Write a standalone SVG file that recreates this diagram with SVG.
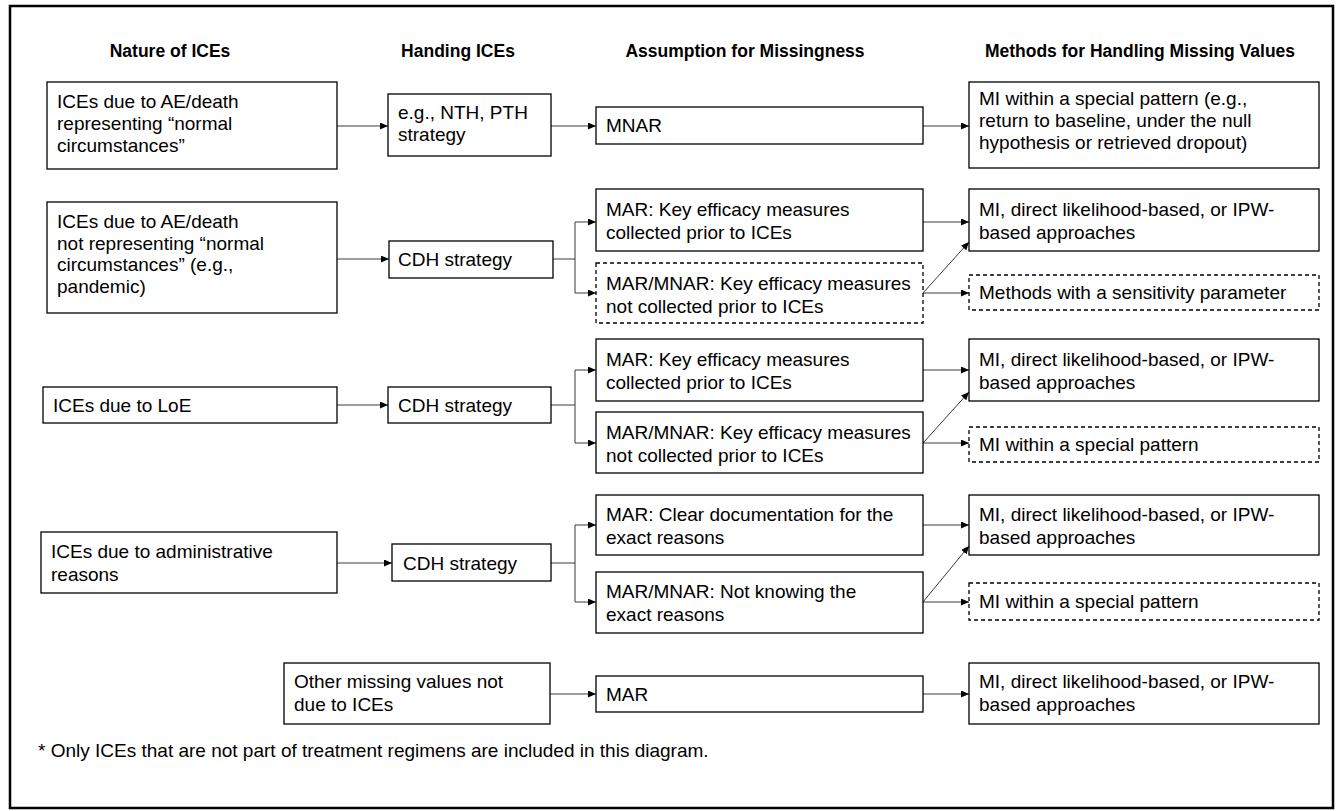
<svg xmlns="http://www.w3.org/2000/svg" width="1336" height="811" viewBox="0 0 1336 811">
<defs>
<style>
.box{fill:#fff;stroke:#000;stroke-width:1.3}
.dash{stroke-dasharray:4 3}
.t{font-family:"Liberation Sans",Arial,sans-serif;font-size:19px;fill:#000}
.h{font-family:"Liberation Sans",Arial,sans-serif;font-size:17.5px;font-weight:bold;fill:#000;text-anchor:middle}
.c{fill:none;stroke:#3a3a3a;stroke-width:1}
</style>
<marker id="ah" markerUnits="userSpaceOnUse" markerWidth="8" markerHeight="7" refX="8" refY="3.5" orient="auto">
<path d="M0,0 L8,3.5 L0,7 z" fill="#000"/>
</marker>
</defs>
<rect x="0" y="0" width="1336" height="811" fill="#fff"/>
<rect id="frame" x="10" y="6" width="1323" height="802" fill="#fff" stroke="#000" stroke-width="2.5"/>

<g id="headers">
<text class="h" x="170" y="57">Nature of ICEs</text>
<text class="h" x="458" y="57">Handing ICEs</text>
<text class="h" x="745" y="57">Assumption for Missingness</text>
<text class="h" x="1140" y="57">Methods for Handling Missing Values</text>
</g>

<g id="connectors" marker-end="url(#ah)">
<path class="c" d="M337,126 H388"/>
<path class="c" d="M551,126 H596"/>
<path class="c" d="M923,126 H969"/>
<path class="c" d="M337,259 H389"/>
<path class="c" d="M553,259 H575 V222 H596"/>
<path class="c" d="M575,259 V293 H596"/>
<path class="c" d="M923,222 H969"/>
<path class="c" d="M923,293 L969,242"/>
<path class="c" d="M923,293 H969"/>
<path class="c" d="M337,405 H388"/>
<path class="c" d="M551,405 H575 V370 H596"/>
<path class="c" d="M575,405 V443 H596"/>
<path class="c" d="M923,370 H969"/>
<path class="c" d="M923,443 L969,392"/>
<path class="c" d="M923,443 H969"/>
<path class="c" d="M337,563 H392"/>
<path class="c" d="M551,563 H575 V525 H596"/>
<path class="c" d="M575,563 V602 H596"/>
<path class="c" d="M923,525 H969"/>
<path class="c" d="M923,602 L969,546"/>
<path class="c" d="M923,602 H969"/>
<path class="c" d="M550,694 H596"/>
<path class="c" d="M923,694 H969"/>
</g>

<g id="a1"><rect class="box" x="47" y="82" width="290" height="87"/>
<text class="t" x="57" y="108">ICEs due to AE/death</text>
<text class="t" x="57" y="130">representing “normal</text>
<text class="t" x="57" y="152">circumstances”</text></g>
<g id="b1"><rect class="box" x="388" y="94" width="163" height="62"/>
<text class="t" x="398" y="119">e.g., NTH, PTH</text>
<text class="t" x="398" y="141">strategy</text></g>
<g id="c1"><rect class="box" x="596" y="107" width="327" height="37"/>
<text class="t" x="606" y="132">MNAR</text></g>
<g id="d1"><rect class="box" x="969" y="82" width="350" height="86"/>
<text class="t" x="979" y="105">MI within a special pattern (e.g.,</text>
<text class="t" x="979" y="127">return to baseline, under the null</text>
<text class="t" x="979" y="149">hypothesis or retrieved dropout)</text></g>

<g id="a2"><rect class="box" x="47" y="202" width="290" height="111"/>
<text class="t" x="57" y="228">ICEs due to AE/death</text>
<text class="t" x="57" y="250">not representing “normal</text>
<text class="t" x="57" y="271">circumstances” (e.g.,</text>
<text class="t" x="57" y="293">pandemic)</text></g>
<g id="b2"><rect class="box" x="389" y="241" width="164" height="37"/>
<text class="t" x="398" y="266">CDH strategy</text></g>
<g id="c2a"><rect class="box" x="596" y="189" width="327" height="62"/>
<text class="t" x="606" y="216">MAR: Key efficacy measures</text>
<text class="t" x="606" y="239">collected prior to ICEs</text></g>
<g id="c2b"><rect class="box dash" x="596" y="263" width="327" height="60"/>
<text class="t" x="606" y="290">MAR/MNAR: Key efficacy measures</text>
<text class="t" x="606" y="313">not collected prior to ICEs</text></g>
<g id="d2a"><rect class="box" x="969" y="189" width="350" height="62"/>
<text class="t" x="979" y="216">MI, direct likelihood-based, or IPW-</text>
<text class="t" x="979" y="239">based approaches</text></g>
<g id="d2b"><rect class="box dash" x="969" y="275" width="350" height="35"/>
<text class="t" x="979" y="299">Methods with a sensitivity parameter</text></g>

<g id="a3"><rect class="box" x="43" y="387" width="294" height="36"/>
<text class="t" x="53" y="412">ICEs due to LoE</text></g>
<g id="b3"><rect class="box" x="388" y="387" width="163" height="36"/>
<text class="t" x="398" y="412">CDH strategy</text></g>
<g id="c3a"><rect class="box" x="596" y="339" width="327" height="62"/>
<text class="t" x="606" y="366">MAR: Key efficacy measures</text>
<text class="t" x="606" y="389">collected prior to ICEs</text></g>
<g id="c3b"><rect class="box" x="596" y="412" width="327" height="61"/>
<text class="t" x="606" y="439">MAR/MNAR: Key efficacy measures</text>
<text class="t" x="606" y="462">not collected prior to ICEs</text></g>
<g id="d3a"><rect class="box" x="969" y="339" width="350" height="62"/>
<text class="t" x="979" y="366">MI, direct likelihood-based, or IPW-</text>
<text class="t" x="979" y="389">based approaches</text></g>
<g id="d3b"><rect class="box dash" x="969" y="427" width="350" height="35"/>
<text class="t" x="979" y="451">MI within a special pattern</text></g>

<g id="a4"><rect class="box" x="41" y="532" width="296" height="61"/>
<text class="t" x="51" y="558">ICEs due to administrative</text>
<text class="t" x="51" y="581">reasons</text></g>
<g id="b4"><rect class="box" x="392" y="544" width="159" height="37"/>
<text class="t" x="403" y="570">CDH strategy</text></g>
<g id="c4a"><rect class="box" x="596" y="495" width="327" height="60"/>
<text class="t" x="606" y="521">MAR: Clear documentation for the</text>
<text class="t" x="606" y="544">exact reasons</text></g>
<g id="c4b"><rect class="box" x="596" y="572" width="327" height="61"/>
<text class="t" x="606" y="598">MAR/MNAR: Not knowing the</text>
<text class="t" x="606" y="621">exact reasons</text></g>
<g id="d4a"><rect class="box" x="969" y="495" width="350" height="60"/>
<text class="t" x="979" y="521">MI, direct likelihood-based, or IPW-</text>
<text class="t" x="979" y="544">based approaches</text></g>
<g id="d4b"><rect class="box dash" x="969" y="583" width="350" height="37"/>
<text class="t" x="979" y="608">MI within a special pattern</text></g>

<g id="a5"><rect class="box" x="284" y="663" width="266" height="61"/>
<text class="t" x="294" y="688">Other missing values not</text>
<text class="t" x="294" y="711">due to ICEs</text></g>
<g id="c5"><rect class="box" x="596" y="676" width="327" height="36"/>
<text class="t" x="606" y="701">MAR</text></g>
<g id="d5"><rect class="box" x="969" y="663" width="350" height="61"/>
<text class="t" x="979" y="688">MI, direct likelihood-based, or IPW-</text>
<text class="t" x="979" y="711">based approaches</text></g>

<text class="t" x="38" y="757">* Only ICEs that are not part of treatment regimens are included in this diagram.</text>
</svg>
